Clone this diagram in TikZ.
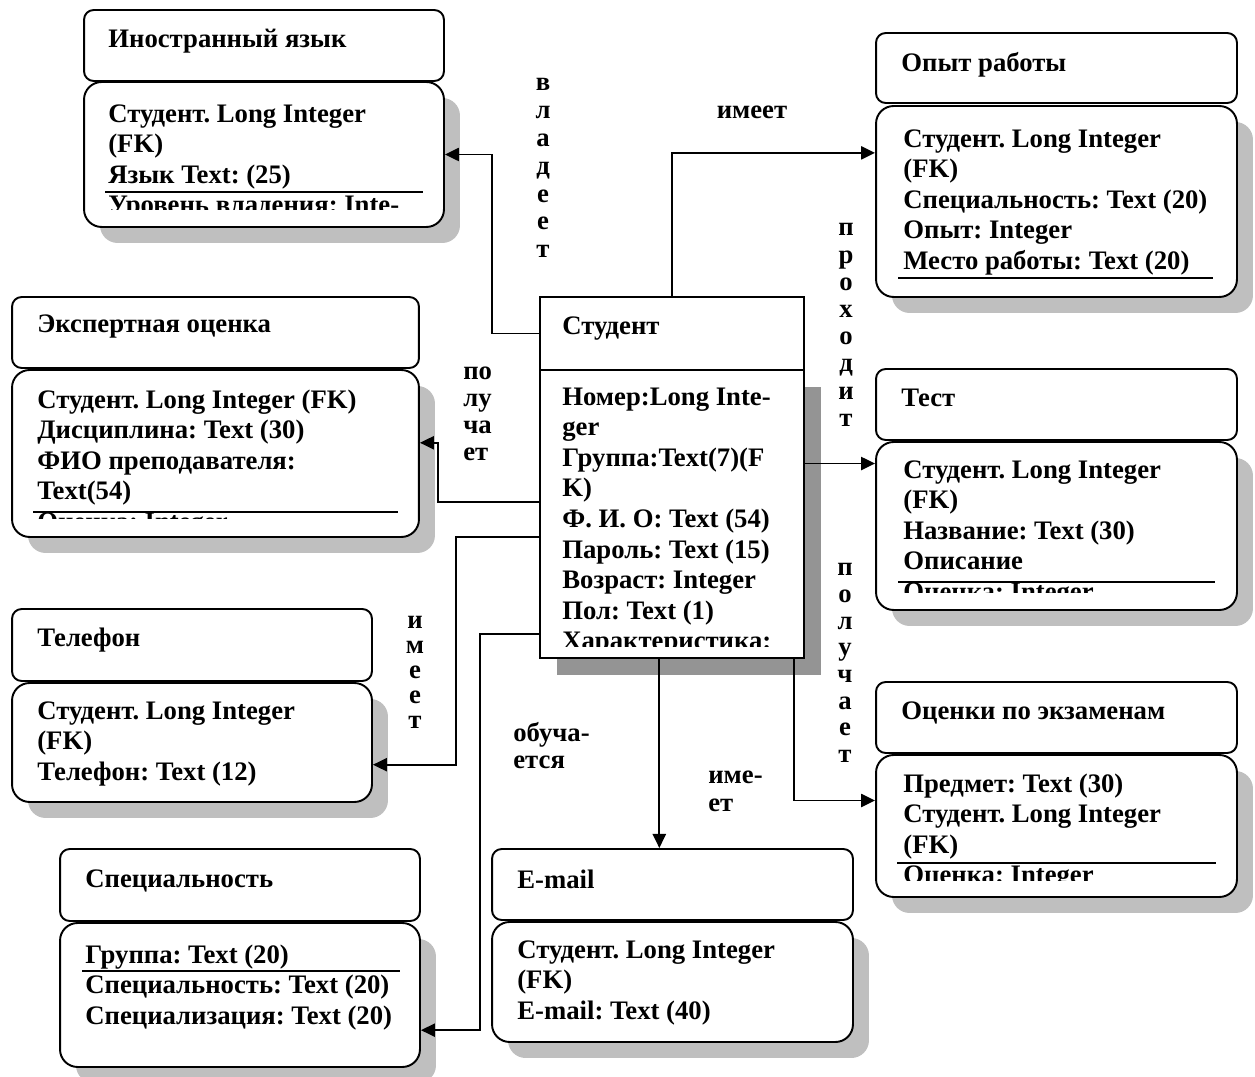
\documentclass[tikz,border=0pt]{standalone}
\usepackage{fontspec}
\setmainfont{Liberation Serif}
\frenchspacing
\usetikzlibrary{arrows.meta,shadows}

\begin{document}
\begin{tikzpicture}[x=0.02cm, y=-0.02cm,
  enthead/.style={rectangle, draw, line width=1.1pt, rounded corners=5.5pt, fill=white, minimum width=7.2cm, minimum height=1.42cm, inner sep=0pt},
  entbody/.style={rectangle, draw, line width=1.1pt, rounded corners=10pt, fill=white, minimum width=7.2cm, inner sep=0pt,
    drop shadow={shadow xshift=0.32cm, shadow yshift=-0.32cm, fill=black!25, opacity=1}},
  stuhead/.style={rectangle, draw, line width=1.1pt, fill=white, minimum width=5.28cm, minimum height=1.46cm, inner sep=0pt},
  stubody/.style={rectangle, draw, line width=1.1pt, fill=white, minimum width=5.28cm, minimum height=5.76cm, inner sep=0pt,
    drop shadow={shadow xshift=0.34cm, shadow yshift=-0.34cm, fill=black!42, opacity=1}},
  ttl/.style={anchor=base west, inner sep=0pt, font=\bfseries\fontsize{15.2}{17.4}\selectfont},
  % base of a multi-line node = baseline of its last line
  fields/.style={anchor=base west, inner sep=0pt, align=left, font=\bfseries\fontsize{15.2}{17.4}\selectfont},
  rel/.style={inner sep=0pt, align=center, font=\bfseries\fontsize{15.2}{#1}\selectfont},
  rel/.default=15.5pt,
  arr/.style={-{Triangle[length=8pt,width=7.5pt]}, line width=1.1pt},
  pkline/.style={line width=1.1pt}
]
  \useasboundingbox (0,0) rectangle (1255,1077);

  % Студент
  \node[stubody] (stuB) at (672,514) {};
  \node[stuhead] (stuH) at (672,333.5) {};
  \node[ttl] (stuT) at (562,335) {Студент};
  \begin{scope}
    \clip (540,370) rectangle (804,647);
    \node[fields] (stuF) at (562,649.8) {Номер:Long Inte-\\ger\\Группа:Text(7)(F\\K)\\Ф. И. О: Text (54)\\Пароль: Text (15)\\Возраст: Integer\\Пол: Text (1)\\Характеристика:};
  \end{scope}

  % Иностранный язык
  \node[enthead] (langH) at (264,45.5) {};
  \node[entbody, minimum height=2.9cm] (langB) at (264,154.5) {};
  \node[ttl] (langT) at (108,48) {Иностранный язык};
  \begin{scope}
    \clip (84,82) rectangle (444,210);
    \node[fields] (langF) at (108,213.8) {Студент. Long Integer\\(FK)\\Язык Text: (25)\\Уровень владения: Inte-};
  \end{scope}
  \draw[pkline] (105,192) -- (423,192);

  % Опыт работы
  \node[enthead, minimum width=7.22cm, minimum height=1.4cm] (opytH) at (1056.5,68) {};
  \node[entbody, minimum width=7.22cm, minimum height=3.82cm] (opytB) at (1056.5,201.5) {};
  \node[ttl] (opytT) at (901,72) {Опыт работы};
  \node[fields] (opytF) at (903,269.4) {Студент. Long Integer\\(FK)\\Специальность: Text (20)\\Опыт: Integer\\Место работы: Text (20)};
  \draw[pkline] (898,278) -- (1213,278);

  % Тест
  \node[enthead, minimum width=7.22cm] (testH) at (1056.5,404.5) {};
  \node[entbody, minimum width=7.22cm, minimum height=3.36cm] (testB) at (1056.5,526) {};
  \node[ttl] (testT) at (901,407) {Тест};
  \begin{scope}
    \clip (876,442) rectangle (1237,593);
    \node[fields] (testF) at (903,600.4) {Студент. Long Integer\\(FK)\\Название: Text (30)\\Описание\\Оценка: Integer};
  \end{scope}
  \draw[pkline] (898,582) -- (1215,582);

  % Оценки по экзаменам
  \node[enthead, minimum width=7.22cm] (examH) at (1056.5,717.5) {};
  \node[entbody, minimum width=7.22cm, minimum height=2.84cm] (examB) at (1056.5,826) {};
  \node[ttl] (examT) at (901,720) {Оценки по экзаменам};
  \begin{scope}
    \clip (876,755) rectangle (1237,880);
    \node[fields] (examF) at (903,883.8) {Предмет: Text (30)\\Студент. Long Integer\\(FK)\\Оценка: Integer};
  \end{scope}
  \draw[pkline] (897,863) -- (1216,863);

  % Экспертная оценка
  \node[enthead, minimum width=8.14cm] (ekspH) at (215.5,332.5) {};
  \node[entbody, minimum width=8.14cm, minimum height=3.34cm] (ekspB) at (215.5,453.5) {};
  \node[ttl] (ekspT) at (37,333) {Экспертная оценка};
  \begin{scope}
    \clip (12,370) rectangle (419,519);
    \node[fields] (ekspF) at (37,530.4) {Студент. Long Integer (FK)\\Дисциплина: Text (30)\\ФИО преподавателя:\\Text(54)\\Оценка: Integer};
  \end{scope}
  \draw[pkline] (33,512) -- (398,512);

  % Телефон
  \node[enthead, minimum height=1.44cm] (phoneH) at (192,645) {};
  \node[entbody, minimum height=2.38cm] (phoneB) at (192,742.5) {};
  \node[ttl] (phoneT) at (37,647) {Телефон};
  \node[fields] (phoneF) at (37,780.2) {Студент. Long Integer\\(FK)\\Телефон: Text (12)};

  % Специальность
  \node[enthead, minimum height=1.44cm] (specH) at (240,885) {};
  \node[entbody, minimum height=2.88cm] (specB) at (240,995) {};
  \node[ttl] (specT) at (85,887) {Специальность};
  \node[fields] (specF) at (85,1024.2) {Группа: Text (20)\\Специальность: Text (20)\\Специализация: Text (20)};
  \draw[pkline] (82,971) -- (400,971);

  % E-mail
  \node[enthead, minimum width=7.22cm] (mailH) at (672.5,884.5) {};
  \node[entbody, minimum width=7.22cm, minimum height=2.4cm] (mailB) at (672.5,982) {};
  \node[ttl] (mailT) at (517,888) {E-mail};
  \node[fields] (mailF) at (517,1019.2) {Студент. Long Integer\\(FK)\\E-mail: Text (40)};

  % связи
  \draw[arr] (stuH.west) -- ++(-47,0) |- (langB.east);
  \draw[arr] (stuH.north) |- (opytB.165);
  \draw[arr] (stuB.east |- testB.161) -- (testB.161);
  \draw[arr] (stuB.175) -- ++(-101,0) |- (ekspB.3);
  \draw[arr] (stuB.190) -- ++(-83,0) |- (phoneB.-7);
  \draw[arr] (stuB.222) -- ++(-59,0) |- (specB.-11);
  \draw[arr] (stuB.-95) -- (stuB.-95 |- mailH.north);
  \draw[arr] (stuB.-50) |- (examB.172);

  % подписи связей
  \node[rel=15.9pt] (lblLang) at (543,168) {в\\л\\а\\д\\е\\е\\т};
  \node[rel] (lblOpyt) at (752,112) {имеет};
  \node[rel=15.5pt] (lblTest) at (846,325) {п\\р\\о\\х\\о\\д\\и\\т};
  \node[rel=15.4pt, align=left, anchor=west] (lblEksp) at (463,414) {по\\лу\\ча\\ет};
  \node[rel=14.2pt] (lblPhone) at (415,672) {и\\м\\е\\е\\т};
  \node[rel=15.4pt, align=left, anchor=west] (lblSpec) at (513,746) {обуча-\\ется};
  \node[rel=15.9pt, align=left, anchor=west] (lblMail) at (708,791) {име-\\ет};
  \node[rel=15.2pt] (lblExam) at (845,663) {п\\о\\л\\у\\ч\\а\\е\\т};
\end{tikzpicture}
\end{document}
